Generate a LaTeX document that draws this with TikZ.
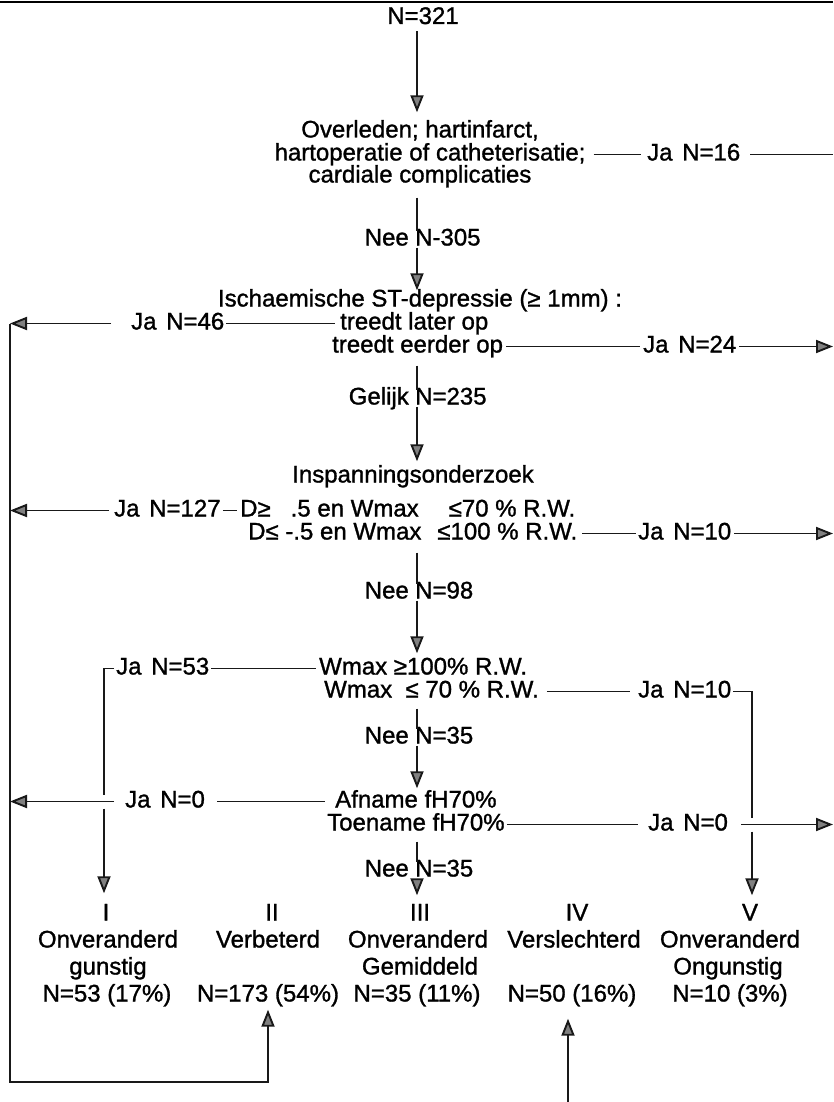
\documentclass[tikz,border=0pt]{standalone}
\usepackage{fontspec}
\setmainfont{Liberation Sans}
\newfontfamily\hvfont{Liberation Sans}[FakeBold=1.2]
\usetikzlibrary{arrows.meta,calc}
\newcommand\fz{\hvfont\fontsize{24}{27}\selectfont}
\newcommand\jsp{\kern3pt\ }
\begin{document}
\begin{tikzpicture}[x=1pt,y=-1pt,
  lbl/.style={inner sep=0pt, text height=17pt, text depth=5pt, font=\fz},
  ln/.style={line width=1.9pt, draw=black!90},
  arr/.style={ln, -{Triangle[length=17pt,width=13pt,fill=black!50]}},
]
\useasboundingbox (0,0) rectangle (833,1102);
\coordinate (tl) at (0,2);
\coordinate (tr) at (833,2);
\draw[line width=2.5pt] (tl) -- (tr);
\coordinate (col) at (417,0);
\coordinate (lx) at (10,0);
\coordinate (rx) at (833,0);
\coordinate (c1) at (104,0);
\coordinate (c5) at (752,0);

% ================= nodes
\node[lbl,anchor=base] (n0) at (423,24) {N=321};
\node[lbl,anchor=base] (q1a) at (420,137.5) {Overleden; hartinfarct,};
\node[lbl,anchor=base] (q1b) at (430,160.5) {hartoperatie of catheterisatie;};
\node[lbl,anchor=base] (q1c) at (420,182.5) {cardiale complicaties};
\node[lbl,anchor=base west] (ja16) at (647,160.5) {Ja\jsp N=16};
\node[lbl,anchor=base east] (nee1) at (409,245.5) {Nee};
\node[lbl,anchor=base west] (n305) at (415,245.5) {N-305};

\node[lbl,anchor=base] (isc) at (420,306.5) {Ischaemische ST-depressie (≥ 1mm) :};
\node[lbl,anchor=base west] (tlo) at (340,329.5) {treedt later op};
\node[lbl,anchor=base west] (ja46) at (131,329.5) {Ja\jsp N=46};
\node[lbl,anchor=base west] (teo) at (332,352.5) {treedt eerder op};
\node[lbl,anchor=base west] (ja24) at (643,352.5) {Ja\jsp N=24};
\node[lbl,anchor=base east] (gel) at (409,404.5) {Gelijk};
\node[lbl,anchor=base west] (n235) at (415,404.5) {N=235};

\node[lbl,anchor=base] (insp) at (413,482.5) {Inspanningsonderzoek};
\node[lbl,anchor=base west] (d1) at (240,516.5) {D≥\hspace{20pt}.5 en Wmax\hspace{30pt}≤70 \% R.W.};
\node[lbl,anchor=base west] (ja127) at (114,516.5) {Ja\jsp N=127};
\node[lbl,anchor=base west] (d2) at (248,539.5) {D≤ -.5 en Wmax\hspace{16pt}≤100 \% R.W.};
\node[lbl,anchor=base west] (ja10a) at (638,539.5) {Ja\jsp N=10};
\node[lbl,anchor=base east] (nee98) at (409,598.5) {Nee};
\node[lbl,anchor=base west] (n98) at (415,598.5) {N=98};

\node[lbl,anchor=base west] (w1) at (319,674.5) {Wmax ≥100\% R.W.};
\node[lbl,anchor=base west] (ja53) at (116,674.5) {Ja\jsp N=53};
\node[lbl,anchor=base west] (w2) at (324,697.5) {Wmax\ \ ≤ 70 \% R.W.};
\node[lbl,anchor=base west] (ja10b) at (638,697.5) {Ja\jsp N=10};
\node[lbl,anchor=base east] (nee35a) at (409,743.5) {Nee};
\node[lbl,anchor=base west] (n35a) at (415,743.5) {N=35};

\node[lbl,anchor=base west] (af) at (335,807.5) {Afname fH70\%};
\node[lbl,anchor=base west] (jaL0) at (125,807.5) {Ja\jsp N=0};
\node[lbl,anchor=base west] (toe) at (327,830.5) {Toename fH70\%};
\node[lbl,anchor=base west] (jaR0) at (648,830.5) {Ja\jsp N=0};
\node[lbl,anchor=base east] (nee35b) at (409,876.5) {Nee};
\node[lbl,anchor=base west] (n35b) at (415,876.5) {N=35};

\node[lbl,anchor=base] (b1r) at (106,920.5) {I};
\node[lbl,anchor=base] (b2r) at (272,920.5) {II};
\node[lbl,anchor=base] (b3r) at (420,920.5) {III};
\node[lbl,anchor=base] (b4r) at (577,920.5) {IV};
\node[lbl,anchor=base] (b5r) at (750,920.5) {V};
\node[lbl,anchor=base] (b1a) at (108,947.5) {Onveranderd};
\node[lbl,anchor=base] (b2a) at (268,947.5) {Verbeterd};
\node[lbl,anchor=base] (b3a) at (418,947.5) {Onveranderd};
\node[lbl,anchor=base] (b4a) at (574,947.5) {Verslechterd};
\node[lbl,anchor=base] (b5a) at (730,947.5) {Onveranderd};
\node[lbl,anchor=base] (b1b) at (108,974.5) {gunstig};
\node[lbl,anchor=base] (b3b) at (420,974.5) {Gemiddeld};
\node[lbl,anchor=base] (b5b) at (728,974.5) {Ongunstig};
\node[lbl,anchor=base] (b1n) at (107,1001.5) {N=53 (17\%)};
\node[lbl,anchor=base] (b2n) at (268,1001.5) {N=173 (54\%)};
\node[lbl,anchor=base] (b3n) at (417,1001.5) {N=35 (11\%)};
\node[lbl,anchor=base] (b4n) at (572,1001.5) {N=50 (16\%)};
\node[lbl,anchor=base] (b5n) at (730,1001.5) {N=10 (3\%)};

% ================= connectors
\draw[ln] ([xshift=8]q1b.east) -- ([xshift=-6]ja16.west);
\draw[ln] ([xshift=10]ja16.east) -- (ja16.east -| rx);
\draw[arr, shorten >=8pt] ($(n0.south -| col)+(0,2)$) -- (q1a.north -| col);
\draw[ln] ($(q1c.south -| col)+(0,10)$) -- ($(n305.north -| col)+(0,3)$);
\draw[arr] ($(n305.south -| col)+(0,-3)$) -- ($(isc.north -| col)+(0,1)$);

\draw[ln] ([xshift=2]ja46.east) -- ([xshift=-5]tlo.west);
\draw[arr] ([xshift=-20]ja46.west) -- (ja46.west -| lx);
\draw[ln] ([xshift=3]teo.east) -- ([xshift=-3]ja24.west);
\draw[arr] ([xshift=3]ja24.east) -- (ja24.east -| rx);
\draw[ln] ($(teo.south -| col)+(0,8)$) -- ($(n235.north -| col)+(0,3)$);
\draw[arr] ($(n235.south -| col)+(0,-3)$) -- ($(insp.north -| col)+(0,-4)$);

\draw[ln] ([xshift=2]ja127.east) -- ([xshift=-3]d1.west);
\draw[arr] ([xshift=-5]ja127.west) -- (ja127.west -| lx);
\draw[ln] ([xshift=5]d2.east) -- ([xshift=-2]ja10a.west);
\draw[arr] ([xshift=3]ja10a.east) -- (ja10a.east -| rx);
\draw[ln] ($(d2.south -| col)+(0,8)$) -- ($(n98.north -| col)+(0,3)$);
\draw[arr] ($(n98.south -| col)+(0,-3)$) -- ($(w1.north -| col)+(0,-4)$);

\draw[ln] ([xshift=2]ja53.east) -- ([xshift=-3]w1.west);
\draw[ln] ([xshift=8]w2.east) -- ([xshift=-8]ja10b.west);
\draw[ln] ($(w2.south -| col)+(0,6)$) -- ($(n35a.north -| col)+(0,3)$);
\draw[arr] ($(n35a.south -| col)+(0,-3)$) -- ($(af.north -| col)+(0,-2)$);

\draw[ln] ([xshift=12]jaL0.east) -- ([xshift=-10]af.west);
\draw[arr] ([xshift=-11]jaL0.west) -- (jaL0.west -| lx);
\draw[ln] ([xshift=2]toe.east) -- ([xshift=-10]jaR0.west);
\draw[arr] ([xshift=13]jaR0.east) -- (jaR0.east -| rx);
\draw[ln] ($(toe.south -| col)+(0,6)$) -- ($(n35b.north -| col)+(0,3)$);
\draw[arr] ($(n35b.south -| col)+(0,-3)$) -- ($(b3r.north -| col)+(0,-8)$);

\draw[ln] ([xshift=-2]ja53.west) -- (ja53.west -| c1) -- ($(jaL0.west -| c1)+(0,-7)$);
\draw[arr] ($(jaL0.west -| c1)+(0,7)$) -- ($(b1r.north -| c1)+(0,-10)$);
\draw[ln] ([xshift=2]ja10b.east) -- (ja10b.east -| c5) -- ($(jaR0.east -| c5)+(0,-7)$);
\draw[arr] ($(jaR0.east -| c5)+(0,7)$) -- ($(b5r.north -| c5)+(0,-8)$);

\coordinate (bl) at (10,1082);
\draw[arr] (ja46.west -| lx) -- (bl) -| ($(b2n.south)+(0,3)$);
\coordinate (b4s) at (568,1102);
\draw[arr] (b4s) -- ($(b4s |- b4n.south)+(0,12)$);
\end{tikzpicture}
\end{document}
